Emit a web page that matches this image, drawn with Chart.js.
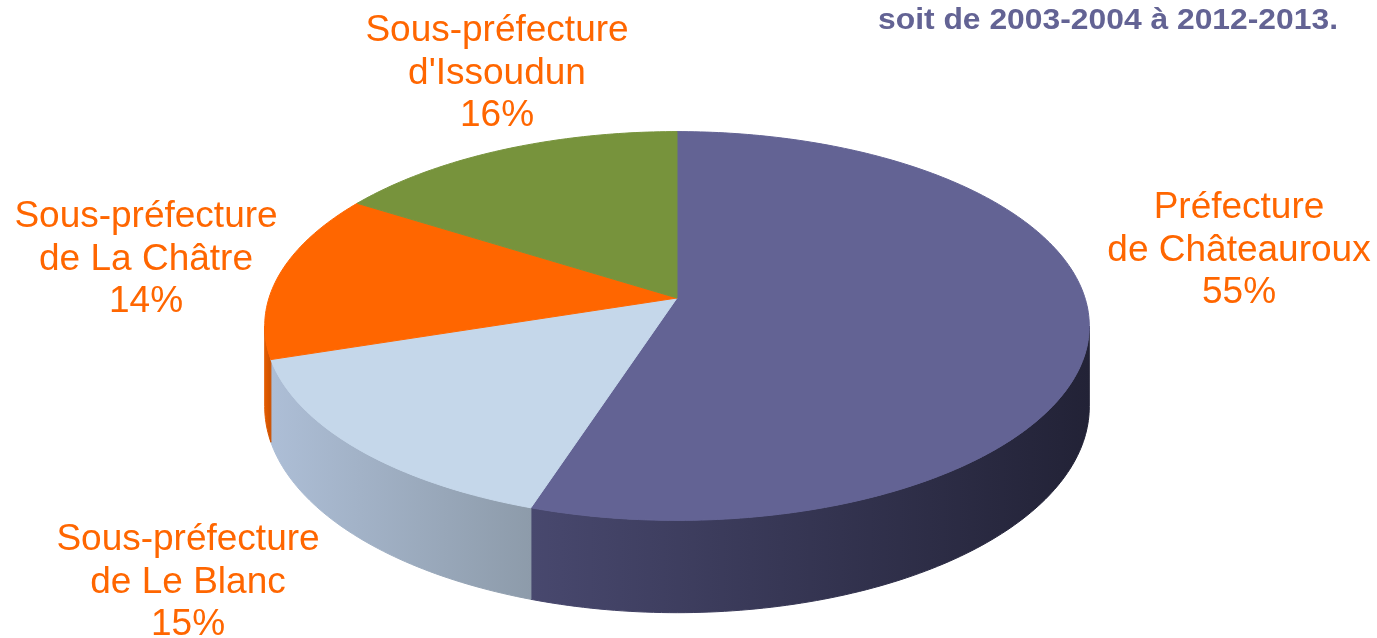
<!DOCTYPE html>
<html>
<head>
<meta charset="utf-8">
<script src="https://cdn.jsdelivr.net/npm/chart.js@4.4.0/dist/chart.umd.min.js"></script>
<style>
    html, body { margin: 0; padding: 0; background: #fff; }
    #wrap { width: 1377px; height: 638px; }
</style>
</head>
<body>
<div id="wrap"><canvas id="pieChart" width="1377" height="638"></canvas></div>
<script>
// Data (clockwise from 12 o'clock)
const categories = ['Préfecture de Châteauroux', 'Sous-préfecture de Le Blanc', 'Sous-préfecture de La Châtre', "Sous-préfecture d'Issoudun"];
const labelLines = [['Préfecture', 'de Châteauroux'], ['Sous-préfecture', 'de Le Blanc'], ['Sous-préfecture', 'de La Châtre'], ['Sous-préfecture', "d'Issoudun"]];
const shares = [55, 15, 14, 16];
const topColors = ['#636394', '#c5d7ea', '#ff6600', '#77933c'];
const subtitle = 'soit de 2003-2004 à 2012-2013.';

// side wall shading, lighter on the left, darker on the right
const wallShades = [['#48486e', '#222236'], ['#adbed6', '#8d9baa'], ['#e45c00', '#c84f00'], ['#5e7630', '#40521f']];

// label anchors (centre x, first baseline)
const labelPos = [[1239, 218], [188, 550], [146, 227], [497, 41]];

// perspective view of the pie top: apex, scale, tilt
const view = { cx: 677, cy: 298, s: 408, a: 0.144, b: 0.4666, depth: 79 };

function project(X, Y, down) {
    const w = 1 - view.a * Y;
    return [view.cx + view.s * X / w, view.cy + view.s * view.b * Y / w + (down ? view.depth / w : 0)];
}

function sampleArc(t1, t2, down) {
    const pts = [];
    const n = Math.max(4, Math.ceil(Math.abs(t2 - t1) * 60));
    for (let k = 0; k <= n; k++) {
        const t = t1 + (t2 - t1) * k / n;
        pts.push(project(Math.cos(t), Math.sin(t), down));
    }
    return pts;
}

const pie3d = {
    id: 'pie3d',
    beforeDatasetsDraw(chart) {
        const ctx = chart.ctx;
        const arcs = chart.getDatasetMeta(0).data;
        const edge = Math.asin(view.a);

        // outer walls (front half only)
        arcs.forEach((arc, i) => {
            const t1 = Math.max(arc.startAngle, edge);
            const t2 = Math.min(arc.endAngle, Math.PI - edge);
            if (t2 <= t1) return;
            const top = sampleArc(t1, t2, false);
            const bottom = sampleArc(t2, t1, true);
            const xs = top.map(p => p[0]);
            const x0 = Math.min(...xs), x1 = Math.max(...xs);
            const grad = ctx.createLinearGradient(x0, 0, x1 + 1, 0);
            grad.addColorStop(0, wallShades[i][0]);
            grad.addColorStop(1, wallShades[i][1]);
            ctx.beginPath();
            top.concat(bottom).forEach((p, k) => k ? ctx.lineTo(p[0], p[1]) : ctx.moveTo(p[0], p[1]));
            ctx.closePath();
            ctx.fillStyle = grad;
            ctx.strokeStyle = grad;
            ctx.lineWidth = 1;
            ctx.fill();
            ctx.stroke();
        });

        // top faces
        const apex = project(0, 0, false);
        arcs.forEach((arc) => {
            ctx.beginPath();
            ctx.moveTo(apex[0], apex[1]);
            sampleArc(arc.startAngle, arc.endAngle, false).forEach(p => ctx.lineTo(p[0], p[1]));
            ctx.closePath();
            ctx.fillStyle = arc.options.backgroundColor;
            ctx.strokeStyle = arc.options.backgroundColor;
            ctx.lineWidth = 1;
            ctx.fill();
            ctx.stroke();
        });
        return false;
    },
    afterDraw(chart) {
        const ctx = chart.ctx;
        ctx.save();
        ctx.fillStyle = '#ff6600';
        ctx.font = '37px "Liberation Sans", Arial, sans-serif';
        ctx.textAlign = 'center';
        ctx.textBaseline = 'alphabetic';
        labelLines.forEach((lines, i) => {
            const [x, y] = labelPos[i];
            lines.concat([shares[i] + '%']).forEach((txt, k) => ctx.fillText(txt, x, y + k * 42.5));
        });

        // subtitle, top right
        ctx.font = 'bold 30px "Liberation Sans", Arial, sans-serif';
        ctx.fillStyle = '#636394';
        ctx.textAlign = 'left';
        const w = ctx.measureText(subtitle).width;
        ctx.translate(878, 29);
        ctx.scale(460 / w, 1);
        ctx.fillText(subtitle, 0, 0);
        ctx.restore();
    }
};

const ctx = document.getElementById('pieChart').getContext('2d');
new Chart(ctx, {
    type: 'pie',
    data: {
        labels: categories,
        datasets: [{
            data: shares,
            backgroundColor: topColors,
            borderWidth: 0
        }]
    },
    options: {
        responsive: false,
        animation: false,
        events: [],
        plugins: {
            legend: { display: false },
            tooltip: { enabled: false }
        }
    },
    plugins: [pie3d]
});
</script>
</body>
</html>
